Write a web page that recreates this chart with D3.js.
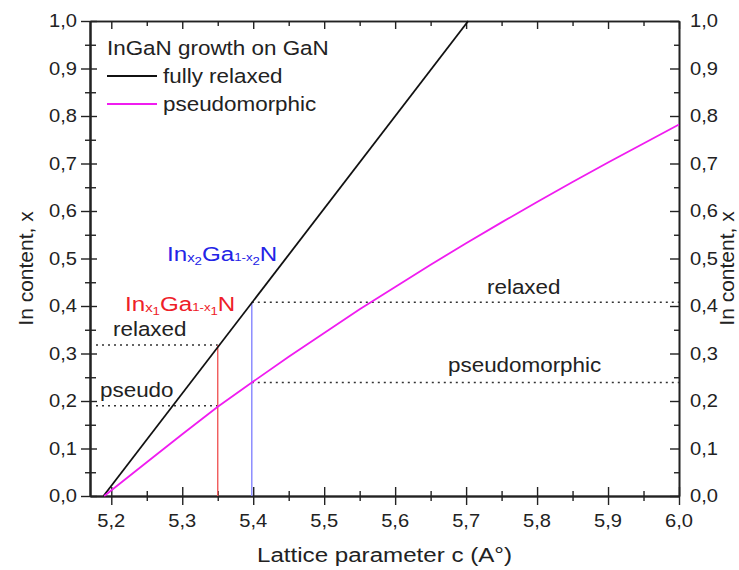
<!DOCTYPE html>
<html>
<head>
<meta charset="utf-8">
<script src="https://cdn.jsdelivr.net/npm/d3@7"></script>
<style>
  body { margin: 0; background: #fff; }
  text { font-family: "Liberation Sans", Arial, sans-serif; fill: #222; }
</style>
</head>
<body>
<div id="chart"></div>
<script>

// fully relaxed InGaN (Vegard's law, c vs In content)
var relaxedC = [5.189, 5.703];
var relaxedX = [0.0, 1.0];

// pseudomorphic InGaN on GaN
var pseudoC = [5.19, 5.25, 5.30, 5.35, 5.40, 5.45, 5.50, 5.55, 5.60, 5.65, 5.70, 5.75, 5.80, 5.85, 5.90, 5.95, 6.00];
var pseudoX = [0.0, 0.071, 0.130, 0.188, 0.241, 0.293, 0.343, 0.393, 0.440, 0.487, 0.532, 0.576, 0.619, 0.661, 0.702, 0.742, 0.782];

var sampleNames = ["1", "2"];
var sampleC = [5.35, 5.398];
var sampleRelaxed = [0.318, 0.408];
var samplePseudo = [0.19, 0.239];

var xTicks = [5.2, 5.3, 5.4, 5.5, 5.6, 5.7, 5.8, 5.9, 6.0];
var xMinor = [5.25, 5.35, 5.45, 5.55, 5.65, 5.75, 5.85, 5.95];
var yTicks = [0.0, 0.1, 0.2, 0.3, 0.4, 0.5, 0.6, 0.7, 0.8, 0.9, 1.0];
var yMinor = [0.05, 0.15, 0.25, 0.35, 0.45, 0.55, 0.65, 0.75, 0.85, 0.95];

var legendTitle = "InGaN growth on GaN";
var seriesNames = ["fully relaxed", "pseudomorphic"];


LatticePlot = function(_parentElement){
  this.parentElement = _parentElement;
  this.initVis();
}

LatticePlot.prototype.initVis = function(){
  var vis = this;

  vis.margin = { top: 21, right: 60, bottom: 74, left: 90 };
  vis.width = 739 - vis.margin.left - vis.margin.right;
  vis.height = 570 - vis.margin.top - vis.margin.bottom;
  vis.sx = 1.15;   // the original text is a bit wide

  vis.svg = d3.select("#" + vis.parentElement).append("svg")
      .attr("width", 739)
      .attr("height", 570)
    .append("g")
      .attr("transform", "translate(" + vis.margin.left + "," + vis.margin.top + ")");

  vis.x = d3.scaleLinear().domain([5.17, 6.0]).range([0, vis.width]);
  vis.y = d3.scaleLinear().domain([0, 1]).range([vis.height, 0]);

  vis.fmt = function(d){ return d3.format(".1f")(d).replace(".", ","); };

  vis.drawAxes();
  vis.updateVis();
}

// put a horizontally stretched text at x,y
LatticePlot.prototype.label = function(x, y, str, size, anchor){
  var vis = this;
  return vis.svg.append("g")
      .attr("transform", "translate(" + x + "," + y + ") scale(" + vis.sx + ",1)")
    .append("text")
      .attr("text-anchor", anchor || "start")
      .style("font-size", size + "px")
      .text(str);
}

LatticePlot.prototype.drawAxes = function(){
  var vis = this;
  var W = vis.width, H = vis.height;

  function styleAxis(g){
    g.select(".domain").attr("stroke", "#222").attr("stroke-width", 1.6);
    g.selectAll(".tick line").attr("stroke", "#222").attr("stroke-width", 1.4);
    g.selectAll(".tick text").remove();
  }

  // bottom: ticks cross the axis
  vis.svg.append("g").attr("transform", "translate(0," + H + ")")
      .call(d3.axisBottom(vis.x).tickValues(xTicks).tickSize(9).tickSizeOuter(0)).call(styleAxis);
  vis.svg.append("g").attr("transform", "translate(0," + H + ")")
      .call(d3.axisTop(vis.x).tickValues(xTicks).tickSize(9).tickSizeOuter(0)).call(styleAxis);
  vis.svg.append("g").attr("transform", "translate(0," + H + ")")
      .call(d3.axisBottom(vis.x).tickValues(xMinor).tickSize(5).tickSizeOuter(0)).call(styleAxis);
  vis.svg.append("g").attr("transform", "translate(0," + H + ")")
      .call(d3.axisTop(vis.x).tickValues(xMinor).tickSize(5).tickSizeOuter(0)).call(styleAxis);

  // top: inward only
  vis.svg.append("g")
      .call(d3.axisBottom(vis.x).tickValues(xTicks).tickSize(8).tickSizeOuter(0)).call(styleAxis);
  vis.svg.append("g")
      .call(d3.axisBottom(vis.x).tickValues(xMinor).tickSize(5).tickSizeOuter(0)).call(styleAxis);

  // left: ticks cross the axis
  vis.svg.append("g")
      .call(d3.axisLeft(vis.y).tickValues(yTicks).tickSize(9).tickSizeOuter(0)).call(styleAxis);
  vis.svg.append("g")
      .call(d3.axisRight(vis.y).tickValues(yTicks).tickSize(7).tickSizeOuter(0)).call(styleAxis);
  vis.svg.append("g")
      .call(d3.axisLeft(vis.y).tickValues(yMinor).tickSize(5).tickSizeOuter(0)).call(styleAxis);
  vis.svg.append("g")
      .call(d3.axisRight(vis.y).tickValues(yMinor).tickSize(6).tickSizeOuter(0)).call(styleAxis);

  // right: inward only
  vis.svg.append("g").attr("transform", "translate(" + W + ",0)")
      .call(d3.axisLeft(vis.y).tickValues(yTicks).tickSize(9).tickSizeOuter(0)).call(styleAxis);
  vis.svg.append("g").attr("transform", "translate(" + W + ",0)")
      .call(d3.axisLeft(vis.y).tickValues(yMinor).tickSize(5).tickSizeOuter(0)).call(styleAxis);

  // tick labels
  xTicks.forEach(function(d){ vis.label(vis.x(d), H + 31, vis.fmt(d), 17.5, "middle"); });
  yTicks.forEach(function(d){
    vis.label(-13, vis.y(d) + 6, vis.fmt(d), 17.5, "end");
    vis.label(W + 11, vis.y(d) + 6, vis.fmt(d), 17.5, "start");
  });

  // axis titles
  vis.label(W / 2, H + 66, "Lattice parameter c (A\u00B0)", 21, "middle");

  vis.svg.append("text")
      .attr("transform", "translate(-57," + (H / 2 + 10) + ") rotate(-90)")
      .attr("text-anchor", "middle")
      .style("font-size", "21px")
      .text("In content, x");
  vis.svg.append("text")
      .attr("transform", "translate(" + (W + 55) + "," + (H / 2 + 10) + ") rotate(-90)")
      .attr("text-anchor", "middle")
      .style("font-size", "21px")
      .text("In content, x");
}

LatticePlot.prototype.updateVis = function(){
  var vis = this;

  var line = d3.line()
      .x(function(d){ return vis.x(d[0]); })
      .y(function(d){ return vis.y(d[1]); });

  var colors = ["#111", "#f01cf0"];
  var curves = [d3.zip(relaxedC, relaxedX), d3.zip(pseudoC, pseudoX)];

  // sample guide lines
  var sampleCol = ["#f05a5a", "#8585ff"];
  sampleC.forEach(function(c, i){
    var x0 = i == 0 ? vis.x.domain()[0] : c;
    var x1 = i == 0 ? c : vis.x.domain()[1];
    [sampleRelaxed[i], samplePseudo[i]].forEach(function(v){
      vis.svg.append("line")
          .attr("x1", vis.x(x0) + (i == 0 ? 6 : 0)).attr("x2", vis.x(x1))
          .attr("y1", vis.y(v)).attr("y2", vis.y(v))
          .attr("stroke", "#333").attr("stroke-width", 1.4)
          .attr("stroke-dasharray", "2,4");
    });
    vis.svg.append("line")
        .attr("x1", vis.x(c)).attr("x2", vis.x(c))
        .attr("y1", vis.y(0)).attr("y2", vis.y(sampleRelaxed[i]))
        .attr("stroke", sampleCol[i]).attr("stroke-width", 1.4);
  });

  vis.svg.selectAll(".curve")
      .data(curves)
    .enter().append("path")
      .attr("class", "curve")
      .attr("d", line)
      .attr("fill", "none")
      .attr("stroke", function(d, i){ return colors[i]; })
      .attr("stroke-width", 1.8);

  // legend
  vis.label(17, 34, legendTitle, 19.5, "start");
  seriesNames.forEach(function(s, i){
    var yy = 55 + i * 28;
    vis.svg.append("line")
        .attr("x1", 17).attr("x2", 67)
        .attr("y1", yy).attr("y2", yy)
        .attr("stroke", colors[i]).attr("stroke-width", 1.8);
    vis.label(73, yy + 7, s, 19.5, "start");
  });

  // text annotations
  vis.label(23, 315, "relaxed", 19.5, "start");
  vis.label(10, 376, "pseudo", 19.5, "start");
  vis.label(397, 273, "relaxed", 19.5, "start");
  vis.label(358, 351, "pseudomorphic", 19.5, "start");

  // In_x Ga_1-x N formulas
  var formulaCol = ["#ee2028", "#2323e6"];
  var formulaPos = [[35, 290], [77, 240]];
  sampleNames.forEach(function(n, i){
    var t = vis.svg.append("g")
        .attr("transform", "translate(" + formulaPos[i][0] + "," + formulaPos[i][1] + ") scale(" + vis.sx + ",1)")
      .append("text")
        .style("fill", formulaCol[i]);
    var parts = [["In", 21, 0], ["x", 13, 1], [n, 11.5, 3], ["Ga", 21, -4], ["1-x", 11.5, 0], [n, 11.5, 4], ["N", 21, -4]];
    parts.forEach(function(p){
      t.append("tspan").style("font-size", p[1] + "px").attr("dy", p[2]).text(p[0]);
    });
  });
}

var plot = new LatticePlot("chart");

</script>
</body>
</html>
